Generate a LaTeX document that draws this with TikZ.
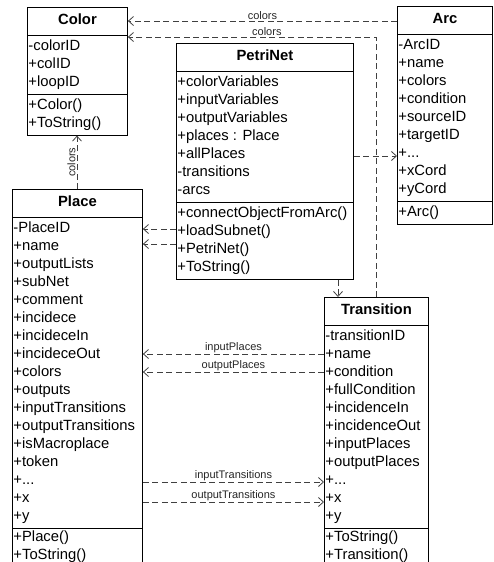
\documentclass[tikz,border=0pt]{standalone}
\usepackage{fontspec}
\setmainfont{Liberation Sans}
\usepackage{tikz}
\usetikzlibrary{positioning,arrows.meta,shapes.multipart}
\newcommand{\cname}[1]{\rule[-8pt]{0pt}{23pt}\textbf{#1}}
\tikzset{
  cls/.style={rectangle split, rectangle split parts=3, draw=black, fill=white, line width=0.9pt,
    font=\fontsize{14.8}{18}\selectfont, align=left, rectangle split part align={center,left,left},
    inner xsep=1pt, inner ysep=2pt, anchor=north west},
  dep/.style={draw=black!75, line width=0.8pt, dash pattern=on 6pt off 3.5pt,
    -{Straight Barb[length=5pt,width=9pt]}},
  lbl/.style={font=\fontsize{11}{13}\selectfont, inner sep=1pt, text=black!85}
}

\begin{document}
\begin{tikzpicture}[x=1pt, y=-1pt]
  \useasboundingbox (0,0) rectangle (494,562);
  % classes
  \node[cls, minimum width=100pt] (col) at (27,7) {\cname{Color}
    \nodepart{two}-colorID\strut\\+colID\\+loopID\strut
    \nodepart{three}+Color()\strut\\+ToString()\strut};
  \node[cls, minimum width=95pt] (arc) at (397,6) {\cname{Arc}
    \nodepart{two}-ArcID\strut\\+name\\+colors\\+condition\\+sourceID\\+targetID\\+...\\+xCord\\+yCord\strut
    \nodepart{three}+Arc()\strut};
  \node[cls, minimum width=177pt] (pn) at (176,43) {\cname{PetriNet}
    \nodepart{two}+colorVariables\strut\\+inputVariables\\+outputVariables\\+places : Place\\+allPlaces\\-transitions\\-arcs\strut
    \nodepart{three}+connectObjectFromArc()\strut\\+loadSubnet()\\+PetriNet()\\+ToString()\strut};
  \node[cls, minimum width=130pt] (pl) at (12,189) {\cname{Place}
    \nodepart{two}-PlaceID\strut\\+name\\+outputLists\\+subNet\\+comment\\+incidece\\+incideceIn\\+incideceOut\\+colors\\+outputs\\+inputTransitions\\+outputTransitions\\+isMacroplace\\+token\\+...\\+x\\+y\strut
    \nodepart{three}\rule{0pt}{10.6pt}+Place()\\+ToString()\strut};
  \node[cls, minimum width=104pt] (tr) at (324,297) {\cname{Transition}
    \nodepart{two}-transitionID\strut\\+name\\+condition\\+fullCondition\\+incidenceIn\\+incidenceOut\\+inputPlaces\\+outputPlaces\\+...\\+x\\+y\strut
    \nodepart{three}\rule{0pt}{10.6pt}+ToString()\\+Transition()\strut};
  % dependencies
  \draw[dep] ([yshift=-15pt]arc.north west) -- ([yshift=-14pt]col.north east) node[lbl, midway, above] {colors};
  \draw[dep] ([xshift=52pt]tr.north west) |- ([yshift=-30pt]col.north east) node[lbl, pos=0.72, above] {colors};
  \draw[dep] ([xshift=65pt]pl.north west) -- ([xshift=50pt]col.south west) node[lbl, midway, above, sloped] {colors};
  \draw[dep] ([yshift=-113pt]pn.north east) -- ([yshift=-150pt]arc.north west);
  \draw[dep] ([xshift=162pt]pn.south west) -- ([xshift=14pt]tr.north west);
  \draw[dep] ([yshift=-186pt]pn.north west) -- ([yshift=-40pt]pl.north east);
  \draw[dep] ([yshift=-201pt]pn.north west) -- ([yshift=-55pt]pl.north east);
  \draw[dep] ([yshift=-57pt]tr.north west) -- ([yshift=-165pt]pl.north east) node[lbl, midway, above] {inputPlaces};
  \draw[dep] ([yshift=-75pt]tr.north west) -- ([yshift=-183pt]pl.north east) node[lbl, midway, above] {outputPlaces};
  \draw[dep] ([yshift=-293pt]pl.north east) -- ([yshift=-185pt]tr.north west) node[lbl, midway, above] {inputTransitions};
  \draw[dep] ([yshift=-313pt]pl.north east) -- ([yshift=-205pt]tr.north west) node[lbl, midway, above] {outputTransitions};
\end{tikzpicture}
\end{document}
